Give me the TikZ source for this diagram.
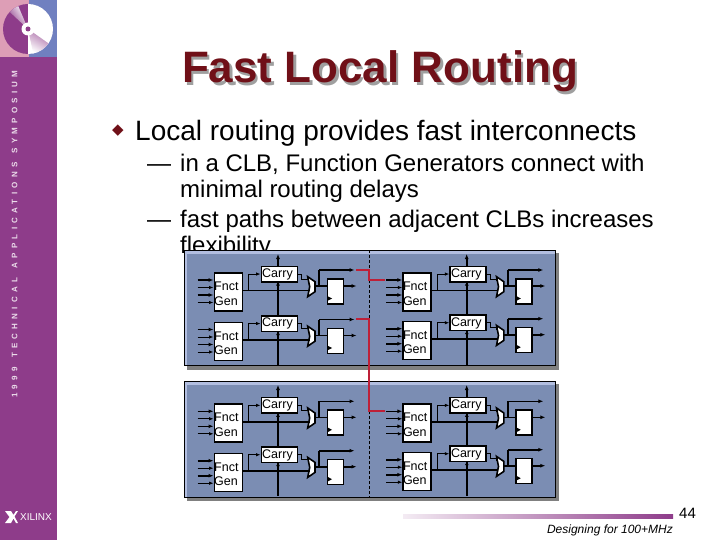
\documentclass[tikz,border=0pt]{standalone}
\usepackage{fontspec}
\setmainfont{Liberation Sans}
\newfontfamily\bandfont[LetterSpace=53,Ligatures=NoCommon]{Liberation Sans Bold}
\usetikzlibrary{arrows.meta}
\definecolor{bandPurple}{RGB}{142,60,138}
\definecolor{tilePink}{RGB}{221,158,182}
\definecolor{tileBlue}{RGB}{112,128,192}
\definecolor{titleRed}{RGB}{112,16,24}
\definecolor{panelBlue}{RGB}{123,141,179}
\definecolor{panelLight}{RGB}{178,190,224}
\definecolor{routeRed}{RGB}{190,32,56}
\tikzset{
  thinwire/.style={line width=0.8pt, -{Latex[length=4.5pt,width=3.5pt]}},
  thickwire/.style={line width=1.6pt, -{Latex[length=5pt,width=4pt]}},
  plainwire/.style={line width=1.6pt},
  routewire/.style={draw=routeRed, line width=2pt},
  boxcell/.style={draw=black, fill=white, line width=1.6pt, inner sep=0pt, anchor=north west},
  boxtext/.style={inner sep=0pt, font=\fontsize{12.5}{12.5}\selectfont, anchor=base west},
  bodytext/.style={inner sep=0pt, anchor=base west, font=\fontsize{24}{24}\selectfont},
}
\begin{document}
\begin{tikzpicture}[x=1pt, y=-1pt]
% Page size taken from the slide
\useasboundingbox (0,0) rectangle (720,540);
% One slice of a CLB: #1 name, #2 x and #3 y of the generator corner
\def\clbSlice#1#2#3{
  \begin{scope}[shift={(#2,#3)}]
    \coordinate (tap#1) at (35,18.5);
    \coordinate (turn#1) at (105.5,14);
    \node[boxcell, minimum width=28pt, minimum height=38pt] (fg#1) at (0,0) {};
    \node[boxcell, minimum width=36pt, minimum height=15.5pt] (carry#1) at (47,-6.5) {};
    \node[boxcell, minimum width=16pt, minimum height=25pt] (ff#1) at (113,6) {};
    \fill[black] (113.8,24) -- (118.5,26.5) -- (113.8,29) -- cycle;
    \draw[fill=white, line width=1.6pt] (94.2,4.7) -- (101.5,9.7) -- (101.5,19.7) -- (94.2,24.7) -- (96.2,14.7) -- cycle;
    \coordinate (muxin#1) at (96,18.5);
    \coordinate (stepa#1) at (88,7);
    \coordinate (muxtop#1) at (94.5,7);
    \coordinate (muxout#1) at (101.5,14);
    % Generator inputs
    \coordinate (ina#1) at (-16,8);
    \coordinate (inb#1) at (-16,15.5);
    \coordinate (inc#1) at (-16,23);
    \coordinate (ind#1) at (-16,30.5);
    \draw[thickwire] (ina#1) -- (ina#1 -| fg#1.west);
    \draw[thinwire] (inb#1) -- (inb#1 -| fg#1.west);
    \draw[thickwire] (inc#1) -- (inc#1 -| fg#1.west);
    \draw[thinwire] (ind#1) -- (ind#1 -| fg#1.west);
    % Wires of the slice
    \draw[plainwire] (tap#1 -| fg#1.east) -- (muxin#1);
    \draw[thinwire] (tap#1) |- (carry#1.west);
    \draw[line width=0.8pt] (carry#1.east) -| (stepa#1) -- (muxtop#1) -- ++(0,2);
    \draw[plainwire] (muxout#1) -- (muxout#1 -| ff#1.west);
    \draw[plainwire] (turn#1) -- (turn#1 |- 0,-2);
    \draw[thickwire] (turn#1 |- 0,-2) -- (141,-2);
    \draw[thickwire] (ff#1.east |- muxout#1) -- (143,14);
    \draw[-{Latex[length=4pt,width=4pt]}, line width=1.6pt] (64.5,15) -- (64.5,9.5);
    \node[boxtext] (fgtop#1) at (0.5,18.5) {Fnct};
    \node[boxtext] (fgbot#1) at (0.5,33) {Gen};
    \node[boxtext] (carrylab#1) at (48.5,5.3) {Carry};
  \end{scope}
}
% Band with the disc
\fill[bandPurple] (0,0) rectangle (57,540);
\fill[tilePink] (0,0) rectangle (28.5,57);
\fill[tileBlue] (28.5,0) rectangle (57,57);
\begin{scope}[shift={(28,29)}, yscale=-1]
  \fill[bandPurple] (0,0) -- (0,25) arc (90:270:25) -- cycle;
  \fill[white] (0,0) -- (0,25) arc (90:-90:25) -- cycle;
  \shade[top color=white, bottom color=bandPurple, shading angle=-55] (0,0) -- (113:25) arc (113:137:25) -- cycle;
  \shade[top color=bandPurple!75, bottom color=white, shading angle=-30] (0,0) -- (-35:25) arc (-35:-78:25) -- cycle;
  \fill[white] (0,0) circle (6.5);
  \fill[bandPurple] (0,0) circle (2.5);
\end{scope}
\node[rotate=90, inner sep=0pt, anchor=west, text=white!82!bandPurple, font=\bandfont\fontsize{8}{8}\selectfont] (band) at (14.5,398) {1999\hspace{3pt} TECHNICAL\hspace{3pt} APPLICATIONS\hspace{3pt} SYMPOSIUM};
\fill[white] (5,511) -- (11,511) -- (13.5,515) -- (16,511) -- (18,511) -- (14.5,516.5) -- (18,523) -- (16,523) -- (13.5,518.5) -- (11,523) -- (5,523) -- (9.5,517) -- cycle;
\node[inner sep=0pt, anchor=west, text=white, font=\fontsize{10}{10}\selectfont] (xilinx) at (20,517) {XILINX};
% Text of the slide
\node[inner sep=0pt, text=gray!75, font=\bfseries\fontsize{44}{44}\selectfont] (titleback) at (382.5,74) {Fast Local Routing};
\node[inner sep=0pt, text=titleRed, font=\bfseries\fontsize{44}{44}\selectfont] (title) at (380,71.5) {Fast Local Routing};
\node[inner sep=0pt, text=titleRed, font=\fontsize{15}{15}\selectfont] (bullet) at (118,131) {\fontspec{DejaVu Sans}◆};
\node[bodytext, font=\fontsize{28}{28}\selectfont] (head) at (135,141) {Local routing provides fast interconnects};
\node[bodytext] (dasha) at (147,172) {—};
\node[bodytext] (linea) at (180,172) {in a CLB, Function Generators connect with};
\node[bodytext] (lineb) at (180,198) {minimal routing delays};
\node[bodytext] (dashb) at (147,228) {—};
\node[bodytext] (linec) at (180,228) {fast paths between adjacent CLBs increases};
\node[bodytext] (lined) at (180,254) {flexibility};
% Panels with their shadows
\fill[gray] (187,253) rectangle (559,370);
\fill[panelLight] (184,250) rectangle (555,365);
\fill[panelBlue] (187,254) rectangle (555,365);
\draw[line width=0.8pt] (184,250) rectangle (555,365);
\fill[gray] (187,384) rectangle (559,501);
\fill[panelLight] (184,381) rectangle (555,497);
\fill[panelBlue] (187,385) rectangle (555,497);
\draw[line width=0.8pt] (184,381) rectangle (555,497);
% Carry chains
\coordinate (chaina) at (278,365);
\coordinate (chainb) at (466.7,365);
\coordinate (chainc) at (278,496);
\coordinate (chaind) at (466.7,496);
\draw[thickwire] (chaina) -- (278,254);
\draw[thickwire] (chainb) -- (466.7,254);
\draw[thickwire] (chainc) -- (278,385);
\draw[thickwire] (chaind) -- (466.7,385);
% Dashed CLB border
\draw[densely dashed, line width=0.8pt] (369.3,250) -- (369.3,319);
\draw[densely dashed, line width=0.8pt] (369.3,411) -- (369.3,497);
% Slices
\clbSlice{a}{213.5}{272}
\clbSlice{b}{213.5}{321.5}
\clbSlice{c}{402.3}{272}
\clbSlice{d}{402.3}{320.7}
\clbSlice{e}{213.5}{403.3}
\clbSlice{f}{213.5}{452.7}
\clbSlice{g}{402.3}{403.3}
\clbSlice{h}{402.3}{451.7}
% Routing between CLBs
\coordinate (routea) at (356,269.7);
\coordinate (routeb) at (385,279.5);
\coordinate (routec) at (356,319.2);
\coordinate (routed) at (385,410.8);
\coordinate (bendb) at (369.3,269.7);
\coordinate (bendd) at (369.3,319.2);
\draw[routewire] (routea) -- (bendb) |- (routeb);
\draw[routewire] (routec) -- (bendd) |- (routed);
% Footer
\shade[left color=bandPurple!10, right color=bandPurple] (403,514) rectangle (673,518);
\node[inner sep=0pt, anchor=west, font=\fontsize{15}{15}\selectfont] (pagenum) at (679,513) {44};
\node[inner sep=0pt, anchor=east, font=\itshape\fontsize{12}{12}\selectfont] (foot) at (673,530) {Designing for 100+MHz};
\end{tikzpicture}
\end{document}
